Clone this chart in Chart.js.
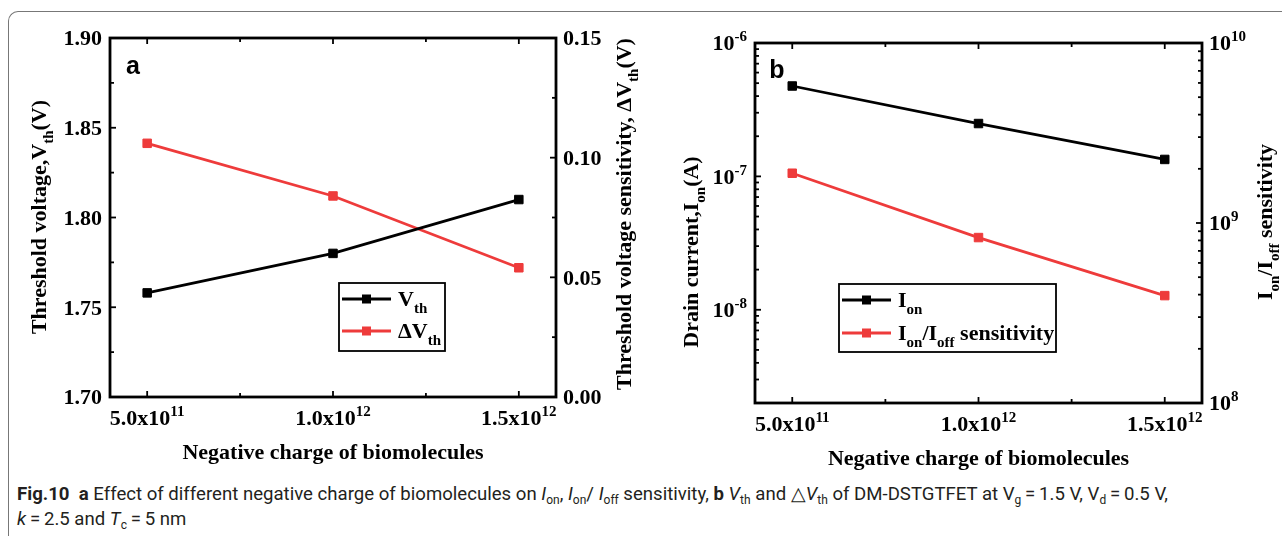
<!DOCTYPE html>
<html>
<head>
<meta charset="utf-8">
<script src="https://cdn.jsdelivr.net/npm/chart.js@4.4.0/dist/chart.umd.min.js"></script>
<style>
  body { margin: 0; background: #fff; width: 1282px; height: 536px; overflow: hidden; position: relative; }
  #frame { position: absolute; left: 8px; top: 11px; width: 1320px; height: 600px;
           border-top: 1px solid #777; border-left: 1px solid #777; border-top-left-radius: 10px; }
  #ca { position: absolute; left: 0; top: 0; }
  #cb { position: absolute; left: 640px; top: 0; }
  #cap { position: absolute; left: 17px; top: 482px; font-family: Roboto, "Noto Sans", sans-serif;
         font-size: 18.6px; line-height: 25px; color: #231f20; white-space: nowrap; }
  #cap sub { font-size: 12px; vertical-align: -4px; line-height: 0; }
</style>
</head>
<body>
<div id="frame"></div>
<canvas id="ca" width="640" height="470"></canvas>
<canvas id="cb" width="642" height="470"></canvas>
<div id="cap"><b>Fig.10</b>&nbsp; <b>a</b> Effect of different negative charge of biomolecules on <i>I</i><sub>on</sub>, <i>I</i><sub>on</sub>/ <i>I</i><sub>off</sub> sensitivity, <b>b</b> <i>V</i><sub>th</sub> and &#9651;<i>V</i><sub>th</sub> of DM-DSTGTFET at V<sub>g</sub>&#8201;=&#8201;1.5 V, V<sub>d</sub>&#8201;=&#8201;0.5 V,<br><i>k</i>&#8201;=&#8201;2.5 and <i>T</i><sub>c</sub>&#8201;=&#8201;5 nm</div>
<script>
// data
const charge = [5e11, 1e12, 1.5e12];
const vth = [1.758, 1.780, 1.810];
const dVth = [0.106, 0.084, 0.054];
const ion = [4.76e-7, 2.49e-7, 1.34e-7];
const ionIoffSens = [1.89e9, 8.3e8, 3.95e8];

// ticks
const chargeTicks = [5e11, 1e12, 1.5e12];
const chargeMinor = [7.5e11, 1.25e12];
const chargeLabels = ['5.0x10^{11}', '1.0x10^{12}', '1.5x10^{12}'];
const vthTicks = [1.70, 1.75, 1.80, 1.85, 1.90];
const vthLabels = ['1.70', '1.75', '1.80', '1.85', '1.90'];
const dVthTicks = [0, 0.05, 0.10, 0.15];
const dVthLabels = ['0.00', '0.05', '0.10', '0.15'];
const ionTicks = [1e-8, 1e-7, 1e-6];
const ionLabels = ['10^{-8}', '10^{-7}', '10^{-6}'];
const sensTicks = [1e8, 1e9, 1e10];
const sensLabels = ['10^{8}', '10^{9}', '10^{10}'];

const RED = '#ee3b3b';
const SERIF = '"Liberation Serif", "Times New Roman", serif';

function parseRich(s) {
  const out = [];
  let buf = '', i = 0;
  while (i < s.length) {
    const c = s[i];
    if ((c === '_' || c === '^') && s[i + 1] === '{') {
      if (buf) { out.push({ t: buf, m: 0 }); buf = ''; }
      const j = s.indexOf('}', i);
      out.push({ t: s.slice(i + 2, j), m: c === '_' ? -1 : 1 });
      i = j + 1;
    } else { buf += c; i++; }
  }
  if (buf) out.push({ t: buf, m: 0 });
  return out;
}

function drawRich(ctx, s, x, y, o) {
  o = o || {};
  const size = o.size || 22, small = o.small || 15;
  const parts = parseRich(s);
  let w = 0;
  parts.forEach(p => {
    ctx.font = 'bold ' + (p.m ? small : size) + 'px ' + SERIF;
    p.w = ctx.measureText(p.t).width;
    w += p.w;
  });
  ctx.save();
  ctx.translate(x, y);
  if (o.rot) ctx.rotate(o.rot);
  ctx.fillStyle = '#000';
  ctx.textBaseline = 'alphabetic';
  ctx.textAlign = 'left';
  let cx = o.align === 'right' ? -w : o.align === 'left' ? 0 : -w / 2;
  const base = size * 0.33;
  parts.forEach(p => {
    ctx.font = 'bold ' + (p.m ? small : size) + 'px ' + SERIF;
    const dy = p.m < 0 ? 7 : p.m > 0 ? -9 : 0;
    ctx.fillText(p.t, cx, base + dy);
    cx += p.w;
  });
  ctx.restore();
}

function logMinor(lo, hi) {
  const out = [];
  for (let e = Math.floor(Math.log10(lo)); e < Math.ceil(Math.log10(hi)); e++) {
    for (let k = 2; k <= 9; k++) {
      const v = k * Math.pow(10, e);
      if (v > lo && v < hi) out.push(v);
    }
  }
  return out;
}

function framePlugin(spec) {
  return {
    id: 'frame' + spec.letter,
    afterDraw(chart) {
      const ctx = chart.ctx;
      const a = chart.chartArea;
      const sx = chart.scales.x, sl = chart.scales.y, sr = chart.scales.y1;
      ctx.save();
      ctx.strokeStyle = '#000';
      // tick marks, pointing inward
      const tick = (x1, y1, x2, y2, lw) => {
        ctx.lineWidth = lw; ctx.beginPath(); ctx.moveTo(x1, y1); ctx.lineTo(x2, y2); ctx.stroke();
      };
      const xt = (vals, len) => vals.forEach(v => {
        const p = sx.getPixelForValue(v);
        tick(p, a.bottom, p, a.bottom - len, 1.8);
        tick(p, a.top, p, a.top + len, 1.8);
      });
      xt(spec.xMajor, 6); xt(spec.xMinor, 4);
      spec.lMajor.forEach(v => { const p = sl.getPixelForValue(v); tick(a.left, p, a.left + 6, p, 1.8); });
      spec.lMinor.forEach(v => { const p = sl.getPixelForValue(v); tick(a.left, p, a.left + 4, p, 1.8); });
      spec.rMajor.forEach(v => { const p = sr.getPixelForValue(v); tick(a.right, p, a.right - 6, p, 1.8); });
      spec.rMinor.forEach(v => { const p = sr.getPixelForValue(v); tick(a.right, p, a.right - 4, p, 1.8); });
      // axis box
      ctx.lineWidth = 2.8;
      ctx.strokeRect(a.left, a.top, a.right - a.left, a.bottom - a.top);
      ctx.restore();

      // tick labels
      spec.xMajor.forEach((v, i) => drawRich(ctx, spec.xLabels[i], sx.getPixelForValue(v), a.bottom + 21));
      spec.lMajor.forEach((v, i) => drawRich(ctx, spec.lLabels[i], a.left - 8, sl.getPixelForValue(v), { align: 'right' }));
      spec.rMajor.forEach((v, i) => drawRich(ctx, spec.rLabels[i], a.right + 7, sr.getPixelForValue(v), { align: 'left' }));

      // axis titles
      drawRich(ctx, spec.xTitle, (a.left + a.right) / 2, a.bottom + 55);
      drawRich(ctx, spec.lTitle, spec.lTitlePos[0], spec.lTitlePos[1], { rot: -Math.PI / 2 });
      drawRich(ctx, spec.rTitle, spec.rTitlePos[0], spec.rTitlePos[1], { rot: -Math.PI / 2 });

      // panel letter
      ctx.save();
      ctx.font = 'bold 25px "Liberation Sans", Arial, sans-serif';
      ctx.fillStyle = '#000';
      ctx.textAlign = 'center';
      ctx.textBaseline = 'alphabetic';
      ctx.fillText(spec.letter, spec.letterPos[0], spec.letterPos[1]);
      ctx.restore();

      // legend
      const L = spec.legend;
      ctx.save();
      ctx.fillStyle = '#fff';
      ctx.fillRect(L.x, L.y, L.w, L.h);
      ctx.strokeStyle = '#000';
      ctx.lineWidth = 1.8;
      ctx.strokeRect(L.x, L.y, L.w, L.h);
      chart.data.datasets.forEach((ds, i) => {
        const yy = L.y + L.row0 + i * L.dy;
        ctx.strokeStyle = ds.borderColor;
        ctx.lineWidth = 2.8;
        ctx.beginPath(); ctx.moveTo(L.x + 3, yy); ctx.lineTo(L.x + 52, yy); ctx.stroke();
        ctx.fillStyle = ds.borderColor;
        ctx.fillRect(L.x + 27.5 - 4.5, yy - 4.5, 9, 9);
        drawRich(ctx, L.labels[i], L.x + 59, yy, { align: 'left' });
      });
      ctx.restore();
    }
  };
}

function series(ys, color, axis) {
  return {
    data: charge.map((x, i) => ({ x: x, y: ys[i] })),
    yAxisID: axis,
    borderColor: color,
    backgroundColor: color,
    borderWidth: 2.8,
    pointStyle: 'rect',
    pointRadius: 6,
    pointBorderWidth: 1,
    tension: 0
  };
}

const commonOpts = (pad, yl, yr) => ({
  responsive: false,
  animation: false,
  layout: { padding: pad },
  plugins: { legend: { display: false }, tooltip: { enabled: false } },
  scales: {
    x: { type: 'linear', min: 4e11, max: 1.6e12, display: false },
    y: Object.assign({ position: 'left', display: false }, yl),
    y1: Object.assign({ position: 'right', display: false }, yr)
  }
});

new Chart(document.getElementById('ca'), {
  type: 'line',
  data: { datasets: [series(vth, '#000', 'y'), series(dVth, RED, 'y1')] },
  options: commonOpts({ left: 110, top: 38, right: 84, bottom: 73 },
    { type: 'linear', min: 1.70, max: 1.90 },
    { type: 'linear', min: 0, max: 0.15 }),
  plugins: [framePlugin({
    letter: 'a', letterPos: [133, 74],
    xMajor: chargeTicks, xMinor: chargeMinor, xLabels: chargeLabels,
    lMajor: vthTicks, lMinor: [1.725, 1.775, 1.825, 1.875], lLabels: vthLabels,
    rMajor: dVthTicks, rMinor: [0.025, 0.075, 0.125], rLabels: dVthLabels,
    xTitle: 'Negative charge of biomolecules',
    lTitle: 'Threshold voltage,V_{th}(V)', lTitlePos: [39, 217],
    rTitle: 'Threshold voltage sensitivity, \u0394V_{th}(V)', rTitlePos: [624, 214],
    legend: { x: 339, y: 283, w: 106, h: 68, row0: 16, dy: 32, labels: ['V_{th}', '\u0394V_{th}'] }
  })]
});

new Chart(document.getElementById('cb'), {
  type: 'line',
  data: { datasets: [series(ion, '#000', 'y'), series(ionIoffSens, RED, 'y1')] },
  options: commonOpts({ left: 115, top: 43, right: 80, bottom: 67 },
    { type: 'logarithmic', min: 2e-9, max: 1e-6 },
    { type: 'logarithmic', min: 1e8, max: 1e10 }),
  plugins: [framePlugin({
    letter: 'b', letterPos: [137, 78],
    xMajor: chargeTicks, xMinor: chargeMinor, xLabels: chargeLabels,
    lMajor: ionTicks, lMinor: logMinor(2e-9, 1e-6), lLabels: ionLabels,
    rMajor: sensTicks, rMinor: logMinor(1e8, 1e10), rLabels: sensLabels,
    xTitle: 'Negative charge of biomolecules',
    lTitle: 'Drain current,I_{on}(A)', lTitlePos: [51, 252],
    rTitle: 'I_{on}/I_{off} sensitivity', rTitlePos: [625, 222],
    legend: { x: 199, y: 284, w: 217, h: 68, row0: 16, dy: 33, labels: ['I_{on}', 'I_{on}/I_{off} sensitivity'] }
  })]
});
</script>
</body>
</html>
